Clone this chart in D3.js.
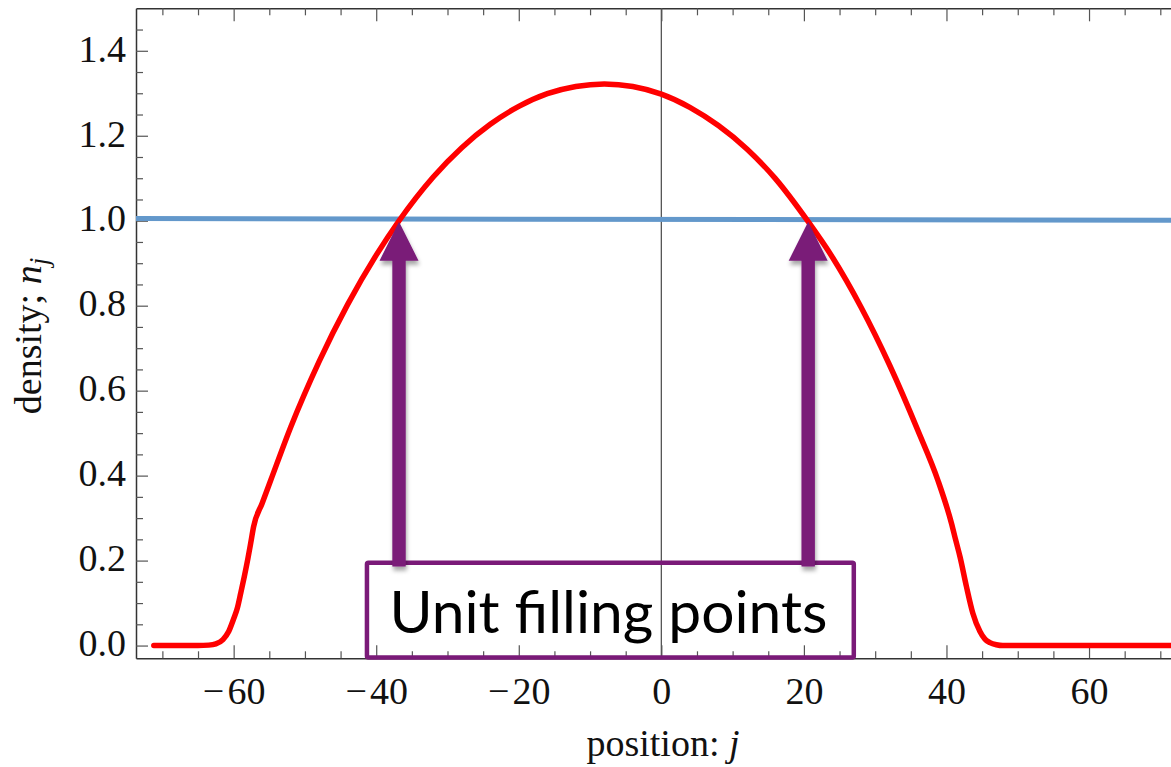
<!DOCTYPE html>
<html><head><meta charset="utf-8">
<script src="https://cdn.jsdelivr.net/npm/d3@7"></script>
<style>html,body{margin:0;padding:0;background:#fff;overflow:hidden}</style>
</head><body><svg id="c" width="1171" height="767"></svg>
<script>
// ---- data ----
const densityX = [-71.2, -68, -65, -63.5, -62.5, -61.5, -60.7, -60.0, -59.5, -59.0, -58.5, -58.0, -57.6, -57.2, -56.0, -54.8, -52, -48, -44, -40, -36.8, -32, -28, -24, -20, -16, -12, -8, -4, 0, 4, 8, 12, 16, 20.5, 24, 28, 32, 36, 38.8, 40.7, 41.3, 41.9, 42.8, 43.7, 44.7, 45.4, 46.1, 47.0, 47.9, 52, 60, 71.5];
const densityY = [0, 0, 0, 0.001, 0.004, 0.014, 0.033, 0.063, 0.087, 0.124, 0.163, 0.205, 0.242, 0.28, 0.335, 0.389, 0.514, 0.669, 0.803, 0.919, 1.0, 1.103, 1.172, 1.227, 1.269, 1.299, 1.316, 1.322, 1.316, 1.298, 1.267, 1.224, 1.169, 1.099, 1.0, 0.914, 0.797, 0.661, 0.506, 0.389, 0.288, 0.248, 0.209, 0.139, 0.076, 0.033, 0.015, 0.007, 0.002, 0, 0, 0, 0];
const unitX = [-73.7, 71.5];
const unitY = [1.005, 1.001];
const xMajorTicks = [-60, -40, -20, 0, 20, 40, 60];
const xMinorTicks = [-70, -65, -55, -50, -45, -35, -30, -25, -15, -10, -5, 5, 10, 15, 25, 30, 35, 45, 50, 55, 65, 70];
const yMajorTicks = [0, 0.2, 0.4, 0.6, 0.8, 1.0, 1.2, 1.4];
const yMinorTicks = [0.05, 0.1, 0.15, 0.25, 0.3, 0.35, 0.45, 0.5, 0.55, 0.65, 0.7, 0.75, 0.85, 0.9, 0.95, 1.05, 1.1, 1.15, 1.25, 1.3, 1.35, 1.45];
const fillPointsX = [-36.8, 20.6];
const fillPointY = 1.0;
const arrowBaseY = 0.186;
const boxX = [-41.3, 27.0];
const boxY = [0.195, -0.028];
const annotation = "Unit filling points";
const xDomain = [-73.7, 71.5];
const yDomain = [-0.03, 1.5];

// ---- layout ----
const L = 136, R = 1171, T = 8.3, B = 658.3;
const svg = d3.select("#c");
const x = d3.scaleLinear().domain(xDomain).range([L, R]);
const y = d3.scaleLinear().domain(yDomain).range([B, T]);
const serif = "'Liberation Serif', 'Times New Roman', serif";

const defs = svg.append("defs");
defs.append("clipPath").attr("id", "plot").append("rect")
  .attr("x", L).attr("y", T).attr("width", R - L).attr("height", B - T);
const f = defs.append("filter").attr("id", "shadow")
  .attr("x", "-50%").attr("y", "-10%").attr("width", "200%").attr("height", "130%");
f.append("feDropShadow").attr("dx", 1).attr("dy", 4).attr("stdDeviation", 2.2)
  .attr("flood-color", "#000").attr("flood-opacity", 0.35);

function style(g) {
  g.selectAll(".tick line").attr("stroke", "#555").attr("stroke-width", 1.2);
  g.select(".domain").attr("stroke", "#333").attr("stroke-width", 1.5);
  g.selectAll("text").attr("font-family", serif).attr("font-size", 38).attr("fill", "#111");
}

// bottom axis
const gb = svg.append("g").attr("transform", `translate(0,${B})`)
  .call(d3.axisBottom(x).tickValues(xMajorTicks).tickSize(-13).tickSizeOuter(0).tickPadding(19)
    .tickFormat(d => d < 0 ? "\u2212\u200A" + Math.abs(d) : String(d)));
style(gb);
const gbm = svg.append("g").attr("transform", `translate(0,${B})`)
  .call(d3.axisBottom(x).tickValues(xMinorTicks).tickSize(-7).tickSizeOuter(0).tickFormat(""));
style(gbm); gbm.select(".domain").remove();

// top axis
const gt = svg.append("g").attr("transform", `translate(0,${T})`)
  .call(d3.axisTop(x).tickValues(xMajorTicks).tickSize(-13).tickSizeOuter(0).tickFormat(""));
style(gt);
const gtm = svg.append("g").attr("transform", `translate(0,${T})`)
  .call(d3.axisTop(x).tickValues(xMinorTicks).tickSize(-7).tickSizeOuter(0).tickFormat(""));
style(gtm); gtm.select(".domain").remove();

// left axis
const gl = svg.append("g").attr("transform", `translate(${L},0)`)
  .call(d3.axisLeft(y).tickValues(yMajorTicks).tickSize(-12).tickSizeOuter(0).tickPadding(10).tickFormat(d3.format(".1f")));
style(gl);
gl.selectAll("text").attr("dy", "0.27em");
const glm = svg.append("g").attr("transform", `translate(${L},0)`)
  .call(d3.axisLeft(y).tickValues(yMinorTicks).tickSize(-7).tickSizeOuter(0).tickFormat(""));
style(glm); glm.select(".domain").remove();

// axis titles
const xt = svg.append("text").attr("x", 663).attr("y", 756)
  .attr("text-anchor", "middle").attr("font-family", serif).attr("font-size", 38).attr("fill", "#111");
xt.append("tspan").text("position: ");
xt.append("tspan").attr("font-style", "italic").text("j");

const yt = svg.append("text").attr("transform", "translate(41,336) rotate(-90)")
  .attr("text-anchor", "middle").attr("font-family", serif).attr("font-size", 38).attr("fill", "#111");
yt.append("tspan").text("density; ");
yt.append("tspan").attr("font-style", "italic").text("n");
yt.append("tspan").attr("font-style", "italic").attr("font-size", 27).attr("dy", 7).text("j");

const plot = svg.append("g").attr("clip-path", "url(#plot)");

// zero line
plot.append("line").attr("x1", x(0)).attr("x2", x(0)).attr("y1", T).attr("y2", B)
  .attr("stroke", "#555").attr("stroke-width", 1.3);

// unit density line
const unitData = unitX.map((v, i) => [v, unitY[i]]);
plot.append("path").datum(unitData)
  .attr("d", d3.line().x(d => x(d[0])).y(d => y(d[1])))
  .attr("fill", "none").attr("stroke", "#6398cb").attr("stroke-width", 5);

// density curve
const dens = densityX.map((v, i) => [v, densityY[i]]);
plot.append("path").datum(dens)
  .attr("d", d3.line().x(d => x(d[0])).y(d => y(d[1])).curve(d3.curveMonotoneX))
  .attr("fill", "none").attr("stroke", "#ff0000").attr("stroke-width", 5.5)
  .attr("stroke-linejoin", "round").attr("stroke-linecap", "round");

// annotation box
const purple = "#7a1a78";
svg.append("rect")
  .attr("x", x(boxX[0])).attr("y", y(boxY[0]))
  .attr("width", x(boxX[1]) - x(boxX[0])).attr("height", y(boxY[1]) - y(boxY[0]))
  .attr("fill", "none").attr("stroke", purple).attr("stroke-width", 4.5).attr("rx", 1.5);
svg.append("text")
  .attr("x", (x(boxX[0]) + x(boxX[1])) / 2 - 2).attr("y", y(boxY[0]) + 70)
  .attr("text-anchor", "middle")
  .attr("font-family", "Lato, 'Open Sans', sans-serif").attr("font-size", 58)
  .attr("textLength", 438).attr("lengthAdjust", "spacingAndGlyphs")
  .attr("fill", "#000").text(annotation);

// arrows
const shaftHalf = 6.7, headHalf = 19.5, headLen = 39;
svg.selectAll("path.arrow").data(fillPointsX).join("path").attr("class", "arrow")
  .attr("d", v => {
    const cx = x(v), tip = y(fillPointY) + 1, hb = tip + headLen, bot = y(arrowBaseY);
    return `M${cx},${tip}L${cx + headHalf},${hb}L${cx + shaftHalf},${hb}L${cx + shaftHalf},${bot}` +
           `L${cx - shaftHalf},${bot}L${cx - shaftHalf},${hb}L${cx - headHalf},${hb}Z`;
  })
  .attr("fill", purple).attr("filter", "url(#shadow)");
</script></body></html>
